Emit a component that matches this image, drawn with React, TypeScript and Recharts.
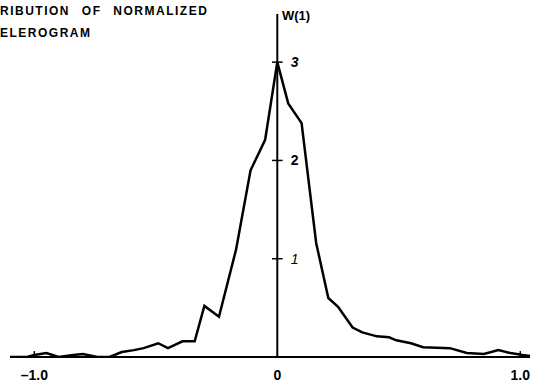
import React from "react";
import { LineChart, Line, XAxis, YAxis, ReferenceLine } from "recharts";

// normalized acceleration (abscissa) and density W
const xs = [
  -1.1, -1.03, -1.0, -0.95, -0.9, -0.84, -0.8, -0.74, -0.69, -0.64, -0.59,
  -0.55, -0.49, -0.45, -0.39, -0.34, -0.3, -0.24, -0.17, -0.11, -0.05, 0,
  0.045, 0.1, 0.16, 0.21, 0.25, 0.31, 0.35, 0.41, 0.46, 0.49, 0.55, 0.6,
  0.71, 0.78, 0.85, 0.91, 0.96, 1.01, 1.04,
];
const ws = [
  0, 0, 0.02, 0.04, 0, 0.02, 0.03, 0, 0, 0.05, 0.07, 0.09, 0.14, 0.09, 0.16,
  0.16, 0.52, 0.41, 1.09, 1.9, 2.21, 3.0, 2.58, 2.38, 1.16, 0.6, 0.51, 0.3,
  0.25, 0.21, 0.2, 0.17, 0.14, 0.1, 0.09, 0.04, 0.03, 0.07, 0.04, 0.02, 0.01,
];

const xTicks = [-1, 0, 1];
const xTickLabels = ["\u20131.0", "0", "1.0"];
const yTicks = [1, 2, 3];
const yTickLabels = ["1", "2", "3"];

const titleLines = ["RIBUTION OF NORMALIZED", "ELEROGRAM"];
const yTitle = "W(1)";

const data = xs.map((x, i) => ({ x, w: ws[i] }));

const font = "'Liberation Sans', Arial, sans-serif";

function XTick(props: any) {
  const { x, y, payload } = props;
  const i = xTicks.indexOf(payload.value);
  return (
    <text
      x={x}
      y={y + 15}
      textAnchor="middle"
      fontFamily={font}
      fontWeight="bold"
      fontSize={14}
      fill="#000"
    >
      {xTickLabels[i]}
    </text>
  );
}

export default function App() {
  return (
    <div
      style={{
        position: "absolute",
        left: 0,
        top: 0,
        width: 546,
        height: 388,
        background: "#fff",
      }}
    >
      {/* title, cut at the left edge as in the scan */}
      <div
        style={{
          position: "absolute",
          left: 0,
          top: 0,
          fontFamily: font,
          fontWeight: "bold",
          fontSize: 12,
          letterSpacing: 1.5,
          wordSpacing: 7,
          lineHeight: "22px",
          whiteSpace: "pre",
        }}
      >
        {titleLines.map((t) => (
          <div key={t}>{t}</div>
        ))}
      </div>
      <div
        style={{
          position: "absolute",
          left: 282,
          top: 8,
          fontFamily: font,
          fontWeight: "bold",
          fontSize: 13,
        }}
      >
        {yTitle}
      </div>

      <LineChart
        width={546}
        height={388}
        data={data}
        margin={{ top: 14, right: 16, bottom: 0, left: 10 }}
      >
        <XAxis
          type="number"
          dataKey="x"
          domain={[-1.1, 1.04]}
          allowDataOverflow
          ticks={xTicks}
          tick={<XTick />}
          tickLine={false}
          axisLine={{ stroke: "#000", strokeWidth: 2 }}
          height={31}
        />
        <YAxis type="number" domain={[0, 3.49]} allowDataOverflow hide />

        <ReferenceLine x={0} stroke="#000" strokeWidth={2} />
        {yTicks.map((t, i) => (
          <ReferenceLine
            key={`yt-${t}`}
            segment={[
              { x: -0.022, y: t },
              { x: 0.022, y: t },
            ]}
            stroke="#000"
            strokeWidth={1.5}
            label={{
              value: yTickLabels[i],
              position: "right",
              offset: 8,
              fill: "#000",
              fontFamily: font,
              fontWeight: t === 1 ? "normal" : "bold",
              fontStyle: t === 2 ? "normal" : "italic",
              fontSize: 14,
            }}
          />
        ))}
        {[-1, 1].map((t) => (
          <ReferenceLine
            key={`xt-${t}`}
            segment={[
              { x: t, y: 0 },
              { x: t, y: 0.06 },
            ]}
            stroke="#000"
            strokeWidth={1.5}
          />
        ))}

        <Line
          type="linear"
          dataKey="w"
          stroke="#000"
          strokeWidth={2.5}
          dot={false}
          isAnimationActive={false}
        />
      </LineChart>
    </div>
  );
}
